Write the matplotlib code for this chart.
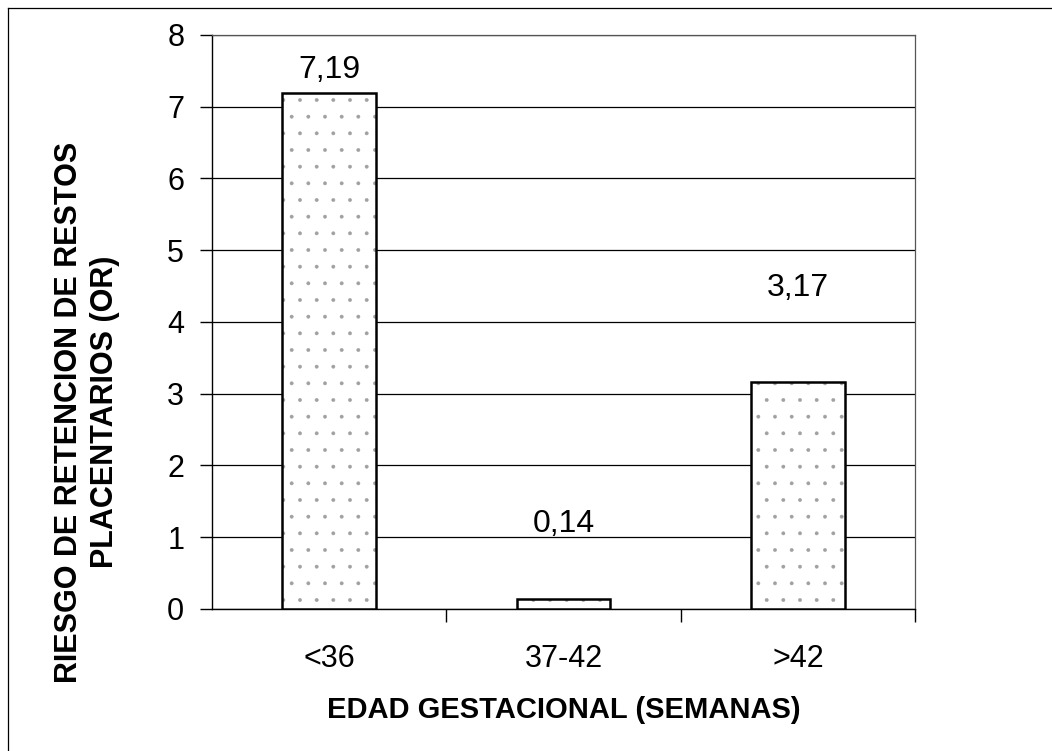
"""Bar chart: placental retention risk (OR) by gestational age."""

import matplotlib
matplotlib.use('Agg')
import matplotlib.pyplot as plt
from matplotlib.lines import Line2D

plt.rcParams['font.family'] = ['Liberation Sans', 'DejaVu Sans']
plt.rcParams['hatch.linewidth'] = 0.3

# ── Data ──
categories = ['<36', '37-42', '>42']
odds_ratio = [7.19, 0.14, 3.17]
value_labels = ['7,19', '0,14', '3,17']

# where each value label sits (data units, label centre)
label_y = [7.51, 1.18, 4.47]

fig = plt.figure(figsize=(10.52, 7.51), dpi=100)
ax = fig.add_axes([0.2015, 0.1891, 0.6683, 0.7643])

x = range(len(categories))
# stippled fill (hatch takes the edge colour, so draw it in grey first)
ax.bar(x, odds_ratio, width=0.4, color='white', edgecolor='#a0a0a0',
       linewidth=0, hatch='.', zorder=3)
# black outline on top
ax.bar(x, odds_ratio, width=0.4, fill=False, edgecolor='black',
       linewidth=1.8, zorder=4)

for xi, txt, yl in zip(x, value_labels, label_y):
    ax.text(xi, yl, txt, ha='center', va='center', fontsize=23, zorder=5)

ax.set_xlim(-0.5, 2.5)
ax.set_ylim(0, 8)
ax.set_yticks(range(0, 9))
ax.set_xticks(list(x))
ax.set_xticklabels(categories)
ax.set_xticks([0.5, 1.5, 2.5], minor=True)
ax.tick_params(axis='x', which='major', length=0, pad=25, labelsize=22)
ax.tick_params(axis='x', which='minor', length=9, width=1, direction='out')
ax.tick_params(axis='y', length=9, width=1, direction='out', pad=11, labelsize=22)

ax.grid(True, axis='y', color='black', linewidth=0.9, zorder=0)
for side in ['left', 'bottom']:
    ax.spines[side].set_color('black')
    ax.spines[side].set_linewidth(1.0)
for side in ['top', 'right']:
    ax.spines[side].set_color('#555555')
    ax.spines[side].set_linewidth(0.9)

ax.set_xlabel('EDAD GESTACIONAL (SEMANAS)', fontsize=21, fontweight='bold', labelpad=16)
fig.text(87 / 1052, 1 - 412 / 751, 'RIESGO DE RETENCION DE RESTOS\nPLACENTARIOS (OR)',
         rotation=90, ha='center', va='center', fontsize=22, fontweight='bold',
         linespacing=1.25)

# outer frame (left and top edges)
fig.add_artist(Line2D([8 / 1052, 8 / 1052], [0, 1 - 8 / 751], color='black',
                      linewidth=0.9, transform=fig.transFigure))
fig.add_artist(Line2D([8 / 1052, 1], [1 - 8 / 751, 1 - 8 / 751], color='black',
                      linewidth=0.9, transform=fig.transFigure))

fig.savefig('out.png', dpi=100)
